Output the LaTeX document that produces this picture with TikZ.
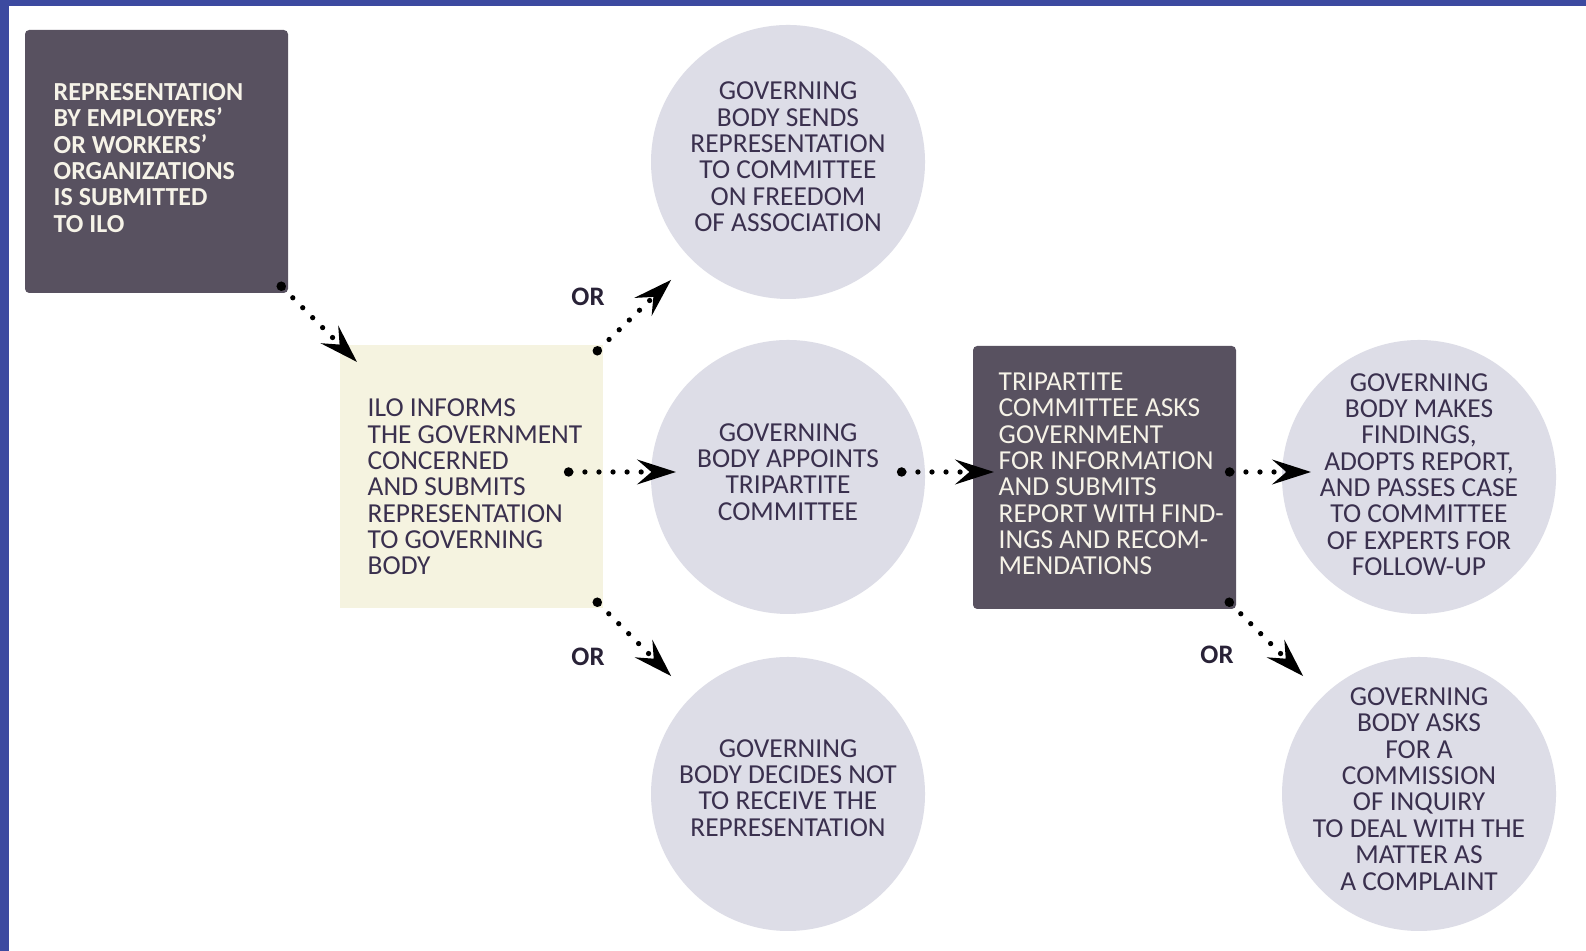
\documentclass[tikz,border=0pt]{standalone}
\usepackage{fontspec}
\setmainfont{Carlito}
\usepackage{xcolor}
\usepackage{tikz}
\usetikzlibrary{positioning,arrows.meta}

\definecolor{frameblue}{RGB}{60,74,160}
\definecolor{slate}{RGB}{88,81,96}
\definecolor{cream}{RGB}{245,243,224}
\definecolor{mist}{RGB}{221,221,231}
\definecolor{ink}{RGB}{58,48,78}
\definecolor{paper}{RGB}{246,243,232}

\begin{document}
\begin{tikzpicture}[
  darkbox/.style={fill=slate, rounded corners=1.2pt, minimum size=2.63cm, inner sep=0pt, outer sep=0pt},
  lightbox/.style={fill=cream, minimum size=2.63cm, inner sep=0pt, outer sep=0pt},
  stage/.style={circle, fill=mist, minimum size=2.74cm, inner sep=0pt, outer sep=0pt},
  stagetext/.style={align=center, inner sep=0pt, text=ink, font={\fontsize{7.8}{7.5}\selectfont}},
  boxtext/.style={anchor=west, align=left, inner sep=0pt, font={\fontsize{7.8}{7.5}\selectfont}},
  flow/.style={line width=1.5pt, line cap=round, dash pattern=on 0pt off 4pt,
    {Circle[length=2.6pt]}-{Stealth[length=11pt,width=7pt,inset=4pt]}},
  ortext/.style={font={\bfseries\fontsize{7.6}{8}\selectfont}, text=ink!70!black}
]
\useasboundingbox (0,0) rectangle (15.86,9.51);
\fill[white] (0,0) rectangle (15.86,9.51);
% frame
\fill[frameblue] (0,9.45) rectangle (15.86,9.51);
\fill[frameblue] (0,0) rectangle (0.085,9.51);

% boxes
\node[darkbox] (rep) at (1.565,7.895) {};
\node[boxtext, text=paper, font={\bfseries\fontsize{7.4}{7.5}\selectfont}] (reptext)
  at ([shift={(0.28,0.035)}]rep.west)
  {REPRESENTATION\\BY EMPLOYERS’\\OR WORKERS’\\ORGANIZATIONS\\IS SUBMITTED\\TO ILO};

\node[lightbox] (inform) at (4.715,4.745) {};
\node[boxtext, text=ink] (informtext) at ([shift={(0.27,-0.105)}]inform.west)
  {ILO INFORMS\\THE GOVERNMENT\\CONCERNED\\AND SUBMITS\\REPRESENTATION\\TO GOVERNING\\BODY};

\node[darkbox] (tri) at (11.045,4.735) {};
\node[boxtext, text=paper] (tritext) at ([shift={(0.25,0.035)}]tri.west)
  {TRIPARTITE\\COMMITTEE ASKS\\GOVERNMENT\\FOR INFORMATION\\AND SUBMITS\\REPORT WITH FIND-\\INGS AND RECOM-\\MENDATIONS};

% circles
\node[stage] (send) at (7.88,7.89) {};
\node[stagetext] (sendtext) at ([yshift=0.05cm]send.center)
  {GOVERNING\\BODY SENDS\\REPRESENTATION\\TO COMMITTEE\\ON FREEDOM\\OF ASSOCIATION};

\node[stage] (appoint) at (7.88,4.74) {};
\node[stagetext] (appointtext) at ([yshift=0.05cm]appoint.center)
  {GOVERNING\\BODY APPOINTS\\TRIPARTITE\\COMMITTEE};

\node[stage] (decline) at (7.88,1.57) {};
\node[stagetext] (declinetext) at ([yshift=0.06cm]decline.center)
  {GOVERNING\\BODY DECIDES NOT\\TO RECEIVE THE\\REPRESENTATION};

\node[stage] (findings) at (14.19,4.74) {};
\node[stagetext] (findingstext) at ([yshift=0.025cm]findings.center)
  {GOVERNING\\BODY MAKES\\FINDINGS,\\ADOPTS REPORT,\\AND PASSES CASE\\TO COMMITTEE\\OF EXPERTS FOR\\FOLLOW-UP};

\node[stage] (inquiry) at (14.19,1.57) {};
\node[stagetext] (inquirytext) at ([yshift=0.05cm]inquiry.center)
  {GOVERNING\\BODY ASKS\\FOR A\\COMMISSION\\OF INQUIRY\\TO DEAL WITH THE\\MATTER AS\\A COMPLAINT};

% arrows
\draw[flow] ([shift={(-0.10,0.10)}]rep.south east) -- ([shift={(0.17,-0.17)}]inform.north west);
\draw[flow] ([shift={(-0.09,-0.09)}]inform.north east) -- ([shift={(-0.20,-0.21)}]send.225);
\draw[flow] ([shift={(-0.39,0.045)}]inform.east) -- ([shift={(0.25,0.05)}]appoint.west);
\draw[flow] ([shift={(-0.09,0.09)}]inform.south east) -- ([shift={(-0.20,0.21)}]decline.135);
\draw[flow] ([shift={(-0.28,0.05)}]appoint.east) -- ([shift={(0.21,0.055)}]tri.west);
\draw[flow] ([shift={(-0.11,0.055)}]tri.east) -- ([shift={(0.29,0.05)}]findings.west);
\draw[flow] ([shift={(-0.10,0.10)}]tri.south east) -- ([shift={(-0.19,0.21)}]inquiry.135);

% or labels
\node[ortext] (or1) at (5.88,6.54) {OR};
\node[ortext] (or2) at (5.88,2.94) {OR};
\node[ortext] (or3) at (12.17,2.96) {OR};
\end{tikzpicture}
\end{document}
